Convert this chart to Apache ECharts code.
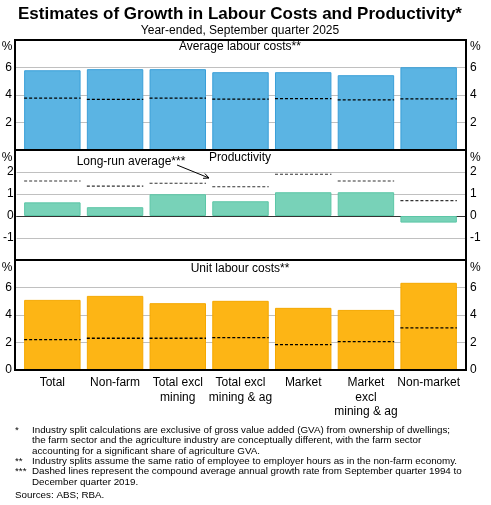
<!DOCTYPE html>
<html>
<head>
<meta charset="utf-8">
<script src="https://cdn.jsdelivr.net/npm/echarts@6/dist/echarts.min.js"></script>
<style>
html,body{margin:0;padding:0;background:#fff;}
#chart{width:491px;height:505px;}
</style>
</head>
<body>
<div id="chart"></div>
<script>
// ---- Data ----
const categories = ['Total', 'Non-farm', 'Total excl\nmining', 'Total excl\nmining & ag', 'Market', 'Market\nexcl\nmining & ag', 'Non-market'];
const avgLabourCosts = [5.8, 5.88, 5.88, 5.66, 5.66, 5.44, 6.02];
const avgLabourLongRun = [3.77, 3.68, 3.77, 3.7, 3.74, 3.65, 3.72];
const productivity = [0.62, 0.40, 0.99, 0.67, 1.08, 1.08, -0.30];
const productivityLongRun = [1.59, 1.36, 1.49, 1.33, 1.90, 1.59, 0.70];
const unitLabourCosts = [5.1, 5.39, 4.86, 5.03, 4.52, 4.37, 6.34];
const unitLabourLongRun = [2.21, 2.31, 2.31, 2.35, 1.84, 2.06, 3.06];
const avgTicks = [2, 4, 6];
const prodTicks = [-1, 0, 1, 2];
const unitTicks = [0, 2, 4, 6];

const FONT = '"Liberation Sans", Arial, sans-serif';
const panels = [
  {top: 40, min: 0, max: 8, interval: 2, ticks: avgTicks, bars: avgLabourCosts, avg: avgLabourLongRun, color: '#5bb4e3', border: '#3a9fd8', dash: '#000', dashW: 1.3, zero: false},
  {top: 150, min: -2, max: 3, interval: 1, ticks: prodTicks, bars: productivity, avg: productivityLongRun, color: '#78d2b8', border: '#5cc6a6', dash: '#333', dashW: 1.1, zero: true},
  {top: 260, min: 0, max: 8, interval: 2, ticks: unitTicks, bars: unitLabourCosts, avg: unitLabourLongRun, color: '#fdb515', border: '#f5a800', dash: '#000', dashW: 1.3, zero: false}
];
const H = 110;

const grid = [], xAxis = [], yAxis = [], series = [];
// frame grids (0..2) – gridlines and labels span full frame width
panels.forEach((p, i) => {
  grid.push({left: 15, right: 25, top: p.top, height: H});
});
// bar grids (3..5) – inset
panels.forEach((p, i) => {
  grid.push({left: 21, right: 31, top: p.top, height: H});
});
panels.forEach((p, i) => {
  xAxis.push({
    type: 'category', gridIndex: i, data: categories,
    show: p.zero,
    axisLine: {show: p.zero, onZero: true, lineStyle: {color: '#333', width: 1}},
    axisTick: {show: false}, axisLabel: {show: false}, splitLine: {show: false}
  });
});
panels.forEach((p, i) => {
  xAxis.push({
    type: 'category', gridIndex: 3 + i, data: categories,
    axisLine: {show: false}, axisTick: {show: false},
    axisLabel: {show: i === 2, interval: 0, fontSize: 12, fontFamily: FONT, color: '#000', lineHeight: 14.3, margin: 6}
  });
});
const fmt = p => v => (p.ticks.indexOf(v) >= 0 ? String(v) : '');
panels.forEach((p, i) => {
  yAxis.push({
    type: 'value', gridIndex: i, position: 'left', min: p.min, max: p.max, interval: p.interval,
    axisLine: {show: false}, axisTick: {show: false},
    axisLabel: {formatter: fmt(p), fontSize: 12, fontFamily: FONT, color: '#000', margin: 3},
    splitLine: {show: true, lineStyle: {color: '#c0c0c0', width: 1}}
  });
});
panels.forEach((p, i) => {
  yAxis.push({
    type: 'value', gridIndex: i, position: 'right', min: p.min, max: p.max, interval: p.interval,
    axisLine: {show: false}, axisTick: {show: false},
    axisLabel: {formatter: fmt(p), fontSize: 12, fontFamily: FONT, color: '#000', margin: 4},
    splitLine: {show: false}
  });
});
panels.forEach((p, i) => {
  yAxis.push({
    type: 'value', gridIndex: 3 + i, min: p.min, max: p.max, interval: p.interval, show: false,
    splitLine: {show: false}
  });
});
panels.forEach((p, i) => {
  series.push({
    type: 'bar', xAxisIndex: 3 + i, yAxisIndex: 6 + i, data: p.bars, barWidth: '90%',
    itemStyle: {color: p.color, borderColor: p.border, borderWidth: 1},
    silent: true, z: 3
  });
  series.push({
    type: 'custom', xAxisIndex: 3 + i, yAxisIndex: 6 + i,
    data: p.avg.map((v, k) => [k, v]),
    encode: {x: 0, y: 1}, z: 5, silent: true,
    renderItem: function (params, api) {
      const c = api.coord([api.value(0), api.value(1)]);
      const w = api.size([1, 0])[0] * 0.9;
      return {
        type: 'line',
        shape: {x1: c[0] - w / 2, y1: c[1], x2: c[0] + w / 2, y2: c[1]},
        style: {stroke: p.dash, lineWidth: p.dashW, lineDash: [3, 2]}
      };
    }
  });
});

const txt = (x, y, text, opt) => Object.assign({
  type: 'text', x: x, y: y, z: 110,
  style: Object.assign({text: text, font: '12px ' + FONT, fill: '#000', textAlign: 'center', textVerticalAlign: 'middle'}, opt || {})
});
const graphic = [
  {type: 'rect', shape: {x: 15, y: 40, width: 451, height: 330}, style: {fill: null, stroke: '#000', lineWidth: 2}, z: 100},
  {type: 'line', shape: {x1: 15, y1: 150, x2: 466, y2: 150}, style: {stroke: '#000', lineWidth: 2}, z: 100},
  {type: 'line', shape: {x1: 15, y1: 260, x2: 466, y2: 260}, style: {stroke: '#000', lineWidth: 2}, z: 100},
  txt(240, 14, 'Estimates of Growth in Labour Costs and Productivity*', {font: 'bold 17px ' + FONT}),
  txt(240, 31, 'Year-ended, September quarter 2025'),
  txt(240, 47, 'Average labour costs**'),
  txt(240, 158, 'Productivity'),
  txt(240, 269, 'Unit labour costs**'),
  txt(131, 162, 'Long-run average***'),
  {type: 'line', shape: {x1: 177, y1: 165, x2: 209, y2: 178}, style: {stroke: '#000', lineWidth: 1}, z: 110},
  {type: 'polyline', shape: {points: [[204.9, 173.6], [209, 178], [203, 178.3]]}, style: {stroke: '#000', lineWidth: 1, fill: null}, z: 110},
  txt(12.5, 47, '%', {textAlign: 'right'}), txt(470, 47, '%', {textAlign: 'left'}),
  txt(12.5, 158, '%', {textAlign: 'right'}), txt(470, 158, '%', {textAlign: 'left'}),
  txt(12.5, 268, '%', {textAlign: 'right'}), txt(470, 268, '%', {textAlign: 'left'})
];
const fn = [
  [430, '*', 'Industry split calculations are exclusive of gross value added (GVA) from ownership of dwellings;'],
  [440.4, '', 'the farm sector and the agriculture industry are conceptually different, with the farm sector'],
  [450.8, '', 'accounting for a significant share of agriculture GVA.'],
  [461.2, '**', 'Industry splits assume the same ratio of employee to employer hours as in the non-farm economy.'],
  [471.6, '***', 'Dashed lines represent the compound average annual growth rate from September quarter 1994 to'],
  [482, '', 'December quarter 2019.']
];
const FN_FONT = '9.8px ' + FONT;
fn.forEach(f => {
  if (f[1]) graphic.push(txt(15, f[0], f[1], {font: FN_FONT, textAlign: 'left'}));
  graphic.push(txt(32, f[0], f[2], {font: FN_FONT, textAlign: 'left'}));
});
graphic.push(txt(15, 495, 'Sources: ABS; RBA.', {font: FN_FONT, textAlign: 'left'}));

const chart = echarts.init(document.getElementById('chart'), null, {renderer: 'canvas'});
chart.setOption({
  animation: false,
  backgroundColor: '#fff',
  textStyle: {fontFamily: FONT},
  grid: grid, xAxis: xAxis, yAxis: yAxis, series: series, graphic: graphic
});
</script>
</body>
</html>
